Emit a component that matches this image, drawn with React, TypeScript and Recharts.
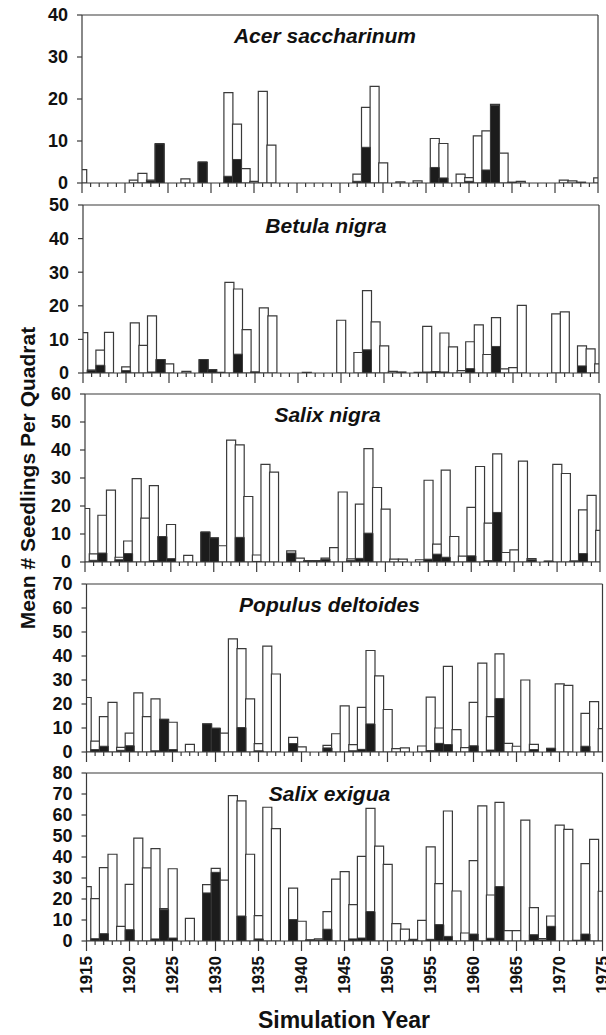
import React from 'react';
import { BarChart, Bar, XAxis, YAxis, ReferenceLine } from 'recharts';

const FONT = '"Liberation Sans", Arial, Helvetica, sans-serif';
const INK = '#3a3a3a';
const TEXT = '#111111';

const years = [
  1915, 1916, 1917, 1918, 1919, 1920, 1921, 1922, 1923, 1924,
  1925, 1926, 1927, 1928, 1929, 1930, 1931, 1932, 1933, 1934,
  1935, 1936, 1937, 1938, 1939, 1940, 1941, 1942, 1943, 1944,
  1945, 1946, 1947, 1948, 1949, 1950, 1951, 1952, 1953, 1954,
  1955, 1956, 1957, 1958, 1959, 1960, 1961, 1962, 1963, 1964,
  1965, 1966, 1967, 1968, 1969, 1970, 1971, 1972, 1973, 1974,
  1975,
];
const labelYears = [1915, 1920, 1925, 1930, 1935, 1940, 1945, 1950, 1955, 1960, 1965, 1970, 1975];

// white bars = all seedlings, black bars = the dark subset
const acerTotal = [
  3.2, 0, 0, 0, 0, 0, 0.7, 2.3, 0.7, 9.4,
  0, 0, 1.0, 0, 5.0, 0, 0, 21.5, 14.0, 3.4,
  0.4, 21.8, 9.0, 0, 0, 0, 0, 0, 0, 0,
  0, 0, 2.1, 18.0, 23.0, 4.8, 0, 0.3, 0, 0.5,
  0, 10.6, 9.4, 0, 2.1, 1.3, 11.2, 12.4, 18.7, 7.1,
  0.2, 0.4, 0, 0, 0, 0, 0.7, 0.5, 0.2, 0,
  1.2,
];
const acerBlack = [
  0, 0, 0, 0, 0, 0, 0, 0, 0.5, 9.3,
  0, 0, 0, 0, 5.0, 0, 0, 1.6, 5.6, 0,
  0, 0, 0, 0, 0, 0, 0, 0, 0, 0,
  0, 0, 0.4, 8.5, 0, 0, 0, 0, 0, 0,
  0, 3.7, 1.2, 0, 0, 0.4, 0, 3.1, 18.5, 0,
  0, 0, 0, 0, 0, 0, 0, 0, 0, 0,
  0,
];

const betulaTotal = [
  12.0, 0.9, 6.8, 12.1, 0, 1.8, 14.9, 8.2, 17.0, 4.0,
  2.7, 0, 0.5, 0, 4.0, 1.0, 0.2, 27.0, 25.0, 12.9,
  0.3, 19.4, 17.0, 0, 0, 0, 0.2, 0, 0, 0,
  15.7, 0, 6.1, 24.5, 15.2, 8.1, 0.5, 0.3, 0, 0.2,
  13.9, 0.4, 11.9, 7.8, 0.7, 9.3, 14.3, 5.5, 16.5, 1.2,
  1.6, 20.1, 0, 0, 0, 17.6, 18.2, 0, 8.1, 7.2,
  2.7,
];
const betulaBlack = [
  0, 0.8, 2.3, 0, 0, 0.7, 0, 0, 0.3, 4.0,
  0, 0, 0, 0, 4.0, 1.0, 0, 0, 5.6, 0,
  0.3, 0, 0, 0, 0, 0, 0, 0, 0, 0,
  0, 0, 0, 6.9, 0, 0, 0, 0, 0, 0,
  0.3, 0.4, 0.3, 0, 0, 1.3, 0, 0, 7.9, 0,
  0, 0, 0, 0, 0, 0, 0, 0, 2.1, 0,
  0,
];

const salixNigraTotal = [
  19.1, 2.9, 16.7, 25.7, 1.7, 7.5, 29.8, 15.7, 27.3, 9.1,
  13.4, 0, 2.4, 0, 10.7, 8.6, 5.8, 43.5, 41.8, 23.4,
  2.5, 34.9, 32.1, 0, 4.0, 1.4, 0.5, 0.5, 1.4, 5.1,
  25.0, 1.1, 20.7, 40.5, 26.6, 18.9, 1.0, 1.0, 0, 0.8,
  29.2, 6.4, 32.8, 9.1, 2.1, 19.5, 34.1, 13.9, 38.6, 3.4,
  4.3, 36.0, 1.2, 0, 0.3, 34.9, 31.6, 0.4, 18.6, 23.8,
  11.3,
];
const salixNigraBlack = [
  0, 0.6, 3.2, 0, 0.8, 3.0, 0, 0, 0.5, 9.1,
  1.2, 0, 0, 0, 10.7, 8.6, 0, 0, 8.8, 0,
  0.2, 0, 0, 0, 3.2, 0, 0.5, 0.5, 1.0, 0,
  0, 0.5, 1.3, 10.3, 0, 0, 0, 0, 0, 0,
  1.0, 2.8, 1.7, 0, 0, 2.2, 0, 0.5, 17.7, 0,
  0, 0, 0.8, 0, 0.3, 0, 0, 0, 3.0, 0,
  0,
];

const populusTotal = [
  22.7, 4.5, 14.7, 20.7, 1.9, 7.9, 24.6, 14.7, 22.1, 13.6,
  12.4, 0, 3.2, 0, 11.7, 9.9, 7.9, 47.1, 43.1, 22.1,
  3.5, 44.1, 32.5, 0, 6.1, 2.1, 0, 0, 2.8, 7.6,
  19.2, 3.1, 18.6, 42.3, 31.7, 17.7, 1.4, 1.7, 0, 2.5,
  22.9, 10.0, 35.7, 9.3, 1.8, 20.7, 37.0, 14.7, 40.9, 3.6,
  2.4, 30.0, 3.2, 0, 1.5, 28.4, 27.8, 0, 16.1, 21.0,
  9.7,
];
const populusBlack = [
  0, 1.0, 2.4, 0, 0.7, 2.6, 0, 0, 0.5, 13.6,
  1.0, 0, 0, 0, 11.7, 9.9, 0, 0, 10.2, 0,
  0.5, 0, 0, 0, 3.5, 0, 0, 0, 1.7, 0,
  0, 0.5, 1.1, 11.7, 0, 0, 0, 0, 0, 0,
  0.6, 3.6, 3.1, 0, 0, 2.6, 0, 0.8, 22.3, 0,
  0, 0, 1.0, 0, 1.5, 0, 0, 0, 2.4, 0,
  0,
];

const salixExiguaTotal = [
  25.9, 20.2, 34.9, 41.3, 7.0, 27.0, 49.0, 34.8, 44.0, 15.4,
  34.4, 0, 10.8, 0, 26.8, 34.6, 29.0, 69.2, 66.7, 41.3,
  12.1, 63.7, 53.5, 0, 25.2, 9.4, 0.5, 1.0, 14.0, 29.5,
  33.0, 17.3, 40.3, 63.2, 45.2, 36.5, 8.3, 5.7, 0.8, 9.8,
  44.8, 27.3, 61.9, 23.8, 3.8, 38.3, 64.3, 21.9, 66.0, 4.9,
  4.9, 57.6, 15.9, 1.1, 11.9, 55.2, 53.2, 0.3, 36.8, 48.4,
  23.7,
];
const salixExiguaBlack = [
  0, 1.1, 3.5, 0, 0, 5.4, 0, 0, 1.0, 14.9,
  1.4, 0, 0, 0, 22.9, 32.7, 0, 0, 11.9, 0,
  1.0, 0, 0, 0, 10.2, 0, 0.5, 0.5, 5.6, 0,
  0, 1.0, 1.4, 14.0, 0, 0, 0, 0, 0.5, 0,
  0.8, 7.8, 2.2, 0, 0, 3.3, 0, 1.3, 25.9, 0,
  0, 0, 3.0, 0.5, 7.0, 0, 0, 0, 3.3, 0,
  0,
];

const ticks40 = [0, 10, 20, 30, 40];
const ticks50 = [0, 10, 20, 30, 40, 50];
const ticks60 = [0, 10, 20, 30, 40, 50, 60];
const ticks70 = [0, 10, 20, 30, 40, 50, 60, 70];
const ticks80 = [0, 10, 20, 30, 40, 50, 60, 70, 80];

// plot box of each panel in page pixels (the scan is slightly skewed)
const panels = [
  { name: 'Acer saccharinum', total: acerTotal, black: acerBlack, yTicks: ticks40, top: 15, bottom: 183, left: 82, right: 598 },
  { name: 'Betula nigra', total: betulaTotal, black: betulaBlack, yTicks: ticks50, top: 205, bottom: 373, left: 83, right: 599 },
  { name: 'Salix nigra', total: salixNigraTotal, black: salixNigraBlack, yTicks: ticks60, top: 394, bottom: 562, left: 85, right: 600 },
  { name: 'Populus deltoides', total: populusTotal, black: populusBlack, yTicks: ticks70, top: 584, bottom: 752, left: 86.5, right: 602.5 },
  { name: 'Salix exigua', total: salixExiguaTotal, black: salixExiguaBlack, yTicks: ticks80, top: 773, bottom: 941, left: 86.5, right: 602.5 },
];

function XTick(props: any) {
  const { x, y, payload, showLabel } = props;
  const yr = payload.value;
  const major = labelYears.includes(yr);
  return (
    <g>
      <line x1={x} x2={x} y1={y} y2={y + (major ? 10 : 4)} stroke={INK} strokeWidth={1.2} />
      {showLabel && major && (
        <text
          x={x}
          y={y + 15}
          transform={`rotate(-90 ${x} ${y + 15})`}
          textAnchor="end"
          dominantBaseline="central"
          fill={TEXT}
          fontFamily={FONT}
          fontWeight="bold"
          fontSize={17}
        >
          {yr}
        </text>
      )}
    </g>
  );
}

const MARGIN_TOP = 10;

function Panel({ p, last }: { p: (typeof panels)[number]; last: boolean }) {
  const data = years.map((year, i) => ({ year, total: p.total[i], black: p.black[i] }));
  const max = p.yTicks[p.yTicks.length - 1];
  const axisH = last ? 70 : 12;
  const height = p.bottom - p.top + MARGIN_TOP + axisH;

  return (
    <div style={{ position: 'absolute', left: 0, top: p.top - MARGIN_TOP, width: 606, height }}>
      <BarChart
        width={606}
        height={height}
        data={data}
        margin={{ top: MARGIN_TOP, right: 606 - p.right, left: 0, bottom: 0 }}
        barCategoryGap={0}
        barGap={0}
      >
        <XAxis
          xAxisId="a"
          type="number"
          dataKey="year"
          domain={[1915, 1975]}
          ticks={years}
          interval={0}
          allowDataOverflow
          tickLine={false}
          tickSize={0}
          tickMargin={0}
          height={axisH}
          axisLine={{ stroke: INK, strokeWidth: 1.2 }}
          tick={(t: any) => <XTick {...t} showLabel={last} />}
        />
        <XAxis
          xAxisId="b"
          type="number"
          dataKey="year"
          domain={[1915, 1975]}
          ticks={years}
          allowDataOverflow
          hide
        />
        <YAxis
          type="number"
          domain={[0, max]}
          ticks={p.yTicks}
          interval={0}
          allowDataOverflow
          width={p.left}
          tickSize={5}
          tickMargin={9}
          axisLine={{ stroke: INK, strokeWidth: 1.2 }}
          tickLine={{ stroke: INK, strokeWidth: 1.2 }}
          tick={{ fill: TEXT, fontSize: 18, fontWeight: 'bold', fontFamily: FONT }}
        />
        <Bar
          xAxisId="a"
          dataKey="total"
          fill="#ffffff"
          stroke={INK}
          strokeWidth={1.2}
          isAnimationActive={false}
        />
        <Bar
          xAxisId="b"
          dataKey="black"
          fill="#1c1c1c"
          stroke={INK}
          strokeWidth={1}
          isAnimationActive={false}
        />
        <ReferenceLine xAxisId="a" y={max} stroke={INK} strokeWidth={1.2} />
        <ReferenceLine xAxisId="a" x={1975} stroke={INK} strokeWidth={1.2} />
      </BarChart>
    </div>
  );
}

export default function App() {
  return (
    <div style={{ position: 'absolute', left: 0, top: 0, width: 606, height: 1035, background: '#fff' }}>
      {panels.map((p, i) => (
        <Panel key={p.name} p={p} last={i === panels.length - 1} />
      ))}
      <svg
        width={606}
        height={1035}
        style={{ position: 'absolute', left: 0, top: 0, pointerEvents: 'none' }}
      >
        {panels.map((p) => (
          <text
            key={p.name}
            x={(p.left + p.right) / 2 - 15}
            y={p.top + 28}
            textAnchor="middle"
            fill={TEXT}
            fontFamily={FONT}
            fontWeight="bold"
            fontStyle="italic"
            fontSize={21}
          >
            {p.name}
          </text>
        ))}
        <text
          x={27}
          y={478}
          transform="rotate(-90 27 478)"
          textAnchor="middle"
          dominantBaseline="central"
          fill={TEXT}
          fontFamily={FONT}
          fontWeight="bold"
          fontSize={21}
        >
          Mean # Seedlings Per Quadrat
        </text>
        <text
          x={344}
          y={1028}
          textAnchor="middle"
          fill={TEXT}
          fontFamily={FONT}
          fontWeight="bold"
          fontSize={23}
        >
          Simulation Year
        </text>
      </svg>
    </div>
  );
}
